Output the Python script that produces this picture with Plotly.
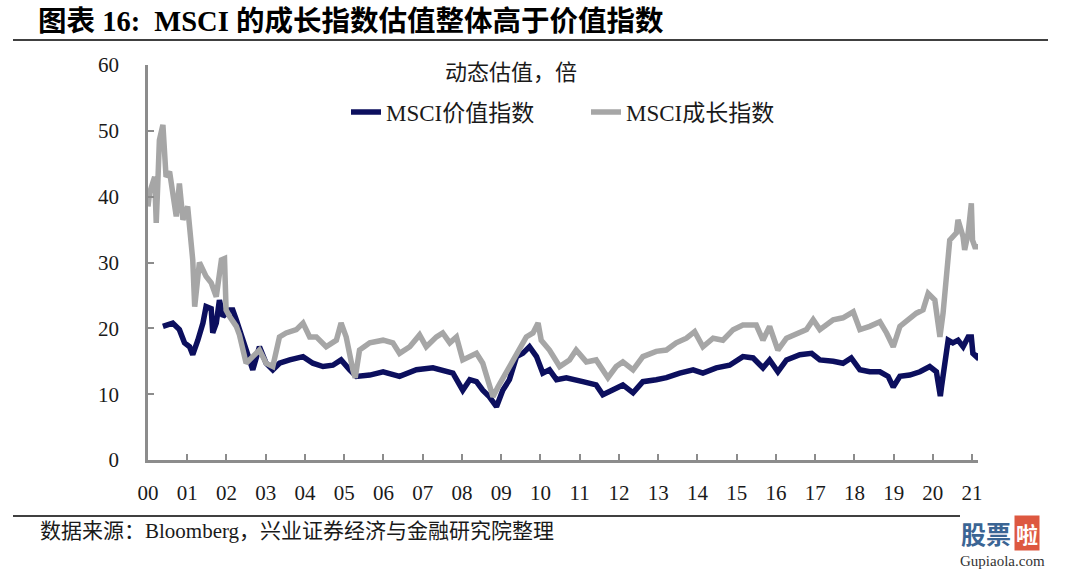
import plotly.graph_objects as go

# ---------------- data ----------------
year_ticks = list(range(0, 22))
year_labels = [f"{y:02d}" for y in year_ticks]
pe_ticks = [0, 10, 20, 30, 40, 50, 60]

value_name = "MSCI价值指数"
growth_name = "MSCI成长指数"

value_years = [0.38, 0.63, 0.80, 0.93, 1.06, 1.14, 1.27, 1.40, 1.48, 1.61, 1.65, 1.74,
               1.82, 1.91, 2.08, 2.16, 2.25, 2.33, 2.50, 2.67, 2.84, 3.01, 3.18, 3.35,
               3.61, 3.95, 4.20, 4.46, 4.71, 4.92, 5.14, 5.31, 5.65, 5.99, 6.41, 6.84,
               7.26, 7.51, 7.77, 8.02, 8.20, 8.37, 8.53, 8.70, 8.88, 9.04, 9.21, 9.39,
               9.55, 9.72, 9.90, 10.06, 10.23, 10.41, 10.66, 11.08, 11.42, 11.59, 11.85,
               12.10, 12.36, 12.61, 12.95, 13.21, 13.55, 13.89, 14.14, 14.48, 14.82,
               15.16, 15.42, 15.67, 15.84, 16.05, 16.27, 16.61, 16.91, 17.12, 17.46,
               17.71, 17.92, 18.14, 18.39, 18.65, 18.86, 18.99, 19.16, 19.41, 19.67,
               19.92, 20.09, 20.19, 20.22, 20.30, 20.39, 20.51, 20.64, 20.77, 20.90,
               20.98, 21.02, 21.11, 21.15]
value_pe = [20.3, 20.8, 19.8, 17.8, 17.2, 16.0, 18.2, 20.8, 23.3, 23.0, 19.3, 20.8,
            24.3, 21.8, 22.8, 22.8, 21.3, 19.8, 16.7, 13.7, 17.2, 14.7, 13.7, 14.7,
            15.2, 15.7, 14.7, 14.2, 14.4, 15.2, 13.7, 12.7, 12.9, 13.4, 12.7, 13.7,
            14.0, 13.7, 13.2, 10.6, 12.2, 11.9, 10.6, 9.6, 8.1, 10.6, 12.2, 15.7,
            16.2, 17.2, 15.7, 13.2, 13.7, 12.2, 12.5, 11.9, 11.4, 9.9, 10.6,
            11.4, 10.2, 11.9, 12.2, 12.5, 13.2, 13.7, 13.2, 14.0, 14.4,
            15.7, 15.5, 14.0, 15.2, 13.4, 15.2, 16.0, 16.2, 15.2, 15.0,
            14.7, 15.5, 13.7, 13.4, 13.4, 12.7, 11.1, 12.7, 12.9, 13.4,
            14.2, 13.4, 9.7, 11.1, 14.7, 18.2, 17.8, 18.2, 17.2, 18.7,
            18.7, 16.2, 15.7, 16.2]

growth_years = [0.00, 0.04, 0.17, 0.21, 0.25, 0.29, 0.38, 0.46, 0.55, 0.63, 0.72, 0.80,
                0.89, 1.01, 1.14, 1.19, 1.31, 1.48, 1.61, 1.74, 1.87, 1.95, 1.99, 2.08,
                2.25, 2.33, 2.50, 2.67, 2.84, 3.01, 3.18, 3.35, 3.52, 3.78, 3.95, 4.12,
                4.29, 4.54, 4.80, 4.92, 5.05, 5.22, 5.28, 5.39, 5.65, 5.99, 6.24, 6.41,
                6.67, 6.92, 7.09, 7.35, 7.51, 7.69, 7.86, 8.02, 8.20, 8.37, 8.53, 8.70,
                8.79, 8.92, 9.13, 9.39, 9.64, 9.81, 9.94, 10.02, 10.23, 10.49, 10.74,
                10.91, 11.17, 11.42, 11.59, 11.72, 11.93, 12.10, 12.36, 12.61, 12.95,
                13.21, 13.46, 13.72, 13.93, 14.14, 14.40, 14.65, 14.91, 15.16, 15.50,
                15.67, 15.84, 16.05, 16.27, 16.78, 16.95, 17.12, 17.46, 17.71, 17.97,
                18.14, 18.39, 18.65, 18.82, 18.99, 19.16, 19.41, 19.58, 19.75, 19.88,
                20.05, 20.18, 20.26, 20.35, 20.43, 20.60, 20.64, 20.77, 20.81, 20.90,
                20.98, 21.01, 21.07, 21.15]
growth_pe = [38.5, 40.6, 43.0, 36.0, 42.0, 48.6, 50.9, 43.0, 43.8, 40.0, 37.0, 42.0,
             36.5, 38.5, 30.4, 23.3, 30.0, 27.9, 26.9, 24.8, 30.4, 30.6, 22.8, 21.8,
             20.3, 19.0, 14.7, 15.7, 16.7, 14.7, 14.2, 18.7, 19.3, 19.8, 20.8, 18.7,
             18.7, 17.2, 18.2, 20.8, 18.7, 13.7, 12.5, 16.7, 17.8, 18.2, 17.8, 16.2,
             17.2, 19.0, 17.2, 18.7, 19.3, 17.8, 18.7, 15.2, 15.7, 16.2, 14.7, 11.7,
             9.6, 11.1, 13.2, 16.2, 18.7, 19.3, 20.8, 18.2, 16.7, 14.2, 15.2,
             16.7, 14.9, 15.2, 13.7, 12.5, 14.2, 14.9, 13.7, 15.7, 16.5,
             16.7, 17.8, 18.5, 19.5, 17.2, 18.5, 18.2, 19.8, 20.5, 20.5,
             18.2, 20.3, 16.7, 18.5, 19.8, 21.3, 19.8, 21.3, 21.6, 22.5,
             19.8, 20.3, 21.0, 19.3, 17.2, 20.3, 21.6, 22.3, 22.8, 25.3,
             24.3, 18.7, 22.3, 29.4, 33.4, 34.5, 36.5, 33.9, 31.9, 34.5,
             39.0, 33.4, 32.4, 32.4]

title_text = "<b>图表 16:  MSCI 的成长指数估值整体高于价值指数</b>"
unit_text = "动态估值，倍"
source_text = "数据来源：Bloomberg，兴业证券经济与金融研究院整理"

# ---------------- styles ----------------
SERIF = "Liberation Serif, Noto Sans CJK SC, serif"
AXIS_GRAY = "#8c8c8c"
NAVY = "#0c0f5e"
GRAY = "#a6a6a6"
TEXT = "#1a1a1a"

fig = go.Figure()
fig.add_trace(go.Scatter(x=value_years, y=value_pe, mode="lines", name=value_name,
                         line=dict(color=NAVY, width=5.5)))
fig.add_trace(go.Scatter(x=growth_years, y=growth_pe, mode="lines", name=growth_name,
                         line=dict(color=GRAY, width=5.5)))

L, R, T, B = 148, 102, 65, 113
W, H = 1080, 573
PW, PH = W - L - R, H - T - B


def px(xp):
    return (xp - L) / PW


def py(yp):
    return (H - B - yp) / PH


fig.update_layout(
    width=W, height=H,
    margin=dict(l=L, r=R, t=T, b=B),
    paper_bgcolor="white", plot_bgcolor="white",
    title=dict(text=title_text, x=38 / W, xref="container", xanchor="left",
               y=1 - 21 / H, yref="container", yanchor="middle",
               font=dict(family=SERIF, size=28.5, color="black")),
    showlegend=True,
    legend=dict(orientation="h", x=px(346), xanchor="left", y=py(112), yanchor="middle",
                font=dict(family=SERIF, size=23, color=TEXT),
                bgcolor="rgba(0,0,0,0)", entrywidth=195, itemwidth=30),
    xaxis=dict(range=[0, 21.15], tickvals=year_ticks, ticktext=year_labels,
               ticks="inside", ticklen=6, tickwidth=2, tickcolor=AXIS_GRAY,
               showline=True, linecolor=AXIS_GRAY, linewidth=2.5,
               showgrid=False, zeroline=False, ticklabelstandoff=12,
               tickfont=dict(family=SERIF, size=21, color=TEXT)),
    yaxis=dict(range=[0, 60], tickvals=pe_ticks,
               ticks="inside", ticklen=6, tickwidth=2, tickcolor=AXIS_GRAY,
               showline=True, linecolor=AXIS_GRAY, linewidth=2.5,
               showgrid=False, zeroline=False, ticklabelstandoff=22,
               tickfont=dict(family=SERIF, size=21, color=TEXT)),
)

fig.add_shape(type="line", xref="paper", yref="paper", x0=px(13), x1=px(1048),
              y0=py(40), y1=py(40), line=dict(color="black", width=1.5))
fig.add_shape(type="line", xref="paper", yref="paper", x0=px(13), x1=px(960),
              y0=py(516), y1=py(516), line=dict(color="black", width=1.5))

fig.add_annotation(text=unit_text, xref="paper", yref="paper", x=px(511), y=py(70),
                   showarrow=False, xanchor="center", yanchor="middle",
                   font=dict(family="Noto Sans CJK SC", size=22, color=TEXT))
fig.add_annotation(text=source_text, xref="paper", yref="paper", x=px(38), y=py(531),
                   showarrow=False, xanchor="left", yanchor="middle",
                   font=dict(family=SERIF, size=21, color=TEXT))
# watermark
fig.add_annotation(text="<b>股票</b>", xref="paper", yref="paper", x=px(986), y=py(533),
                   showarrow=False, xanchor="center", yanchor="middle",
                   font=dict(family="Noto Sans CJK SC", size=25, color="#3b6594"))
fig.add_annotation(text="<b>啦</b>", xref="paper", yref="paper", x=px(1027), y=py(533),
                   showarrow=False, xanchor="center", yanchor="middle", bgcolor="#dd5840",
                   borderpad=1, font=dict(family="Noto Sans CJK SC", size=22, color="white"))
fig.add_annotation(text="Gupiaola.com", xref="paper", yref="paper", x=px(1002), y=py(561),
                   showarrow=False, xanchor="center", yanchor="middle",
                   font=dict(family=SERIF, size=15, color="#333333"))

fig.write_html("out.html", config={"displayModeBar": False},
               post_script="document.body.style.margin='0';")
